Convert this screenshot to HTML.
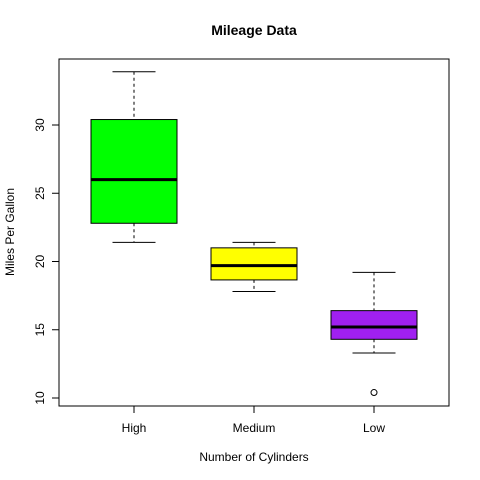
<!DOCTYPE html>
<html><head><meta charset="utf-8"><style>body{margin:0;background:#fff}svg{display:block;font-family:"Liberation Sans",sans-serif}</style></head>
<body>
<svg id="c" width="480" height="480" xmlns="http://www.w3.org/2000/svg">
<rect x="0" y="0" width="480" height="480" fill="#fff"/>
<text x="254" y="35" text-anchor="middle" font-size="14" font-weight="bold">Mileage Data</text>
<text x="254" y="461" text-anchor="middle" font-size="12">Number of Cylinders</text>
<text transform="translate(14,232) rotate(-90)" text-anchor="middle" font-size="12">Miles Per Gallon</text>
<rect x="59" y="59" width="390" height="347" fill="none" stroke="#000"/>
</svg>
<script>
const categories=["High","Medium","Low"];
const colors=["#00ff00","#ffff00","#a020f0"];
const mins=[21.4,17.8,13.3];
const q1s=[22.8,18.65,14.3];
const medians=[26,19.7,15.2];
const q3s=[30.4,21,16.4];
const maxs=[33.9,21.4,19.2];
const outliers=[[],[],[10.4]];
const yTicks=[10,15,20,25,30];
const NS="http://www.w3.org/2000/svg";
const svg=document.getElementById('c');
const y=v=>398-(v-10)*13.65;
const x=i=>134+i*120;
function el(t,a,name){const e=document.createElementNS(NS,t);for(const k in a)e.setAttribute(k,a[k]);


svg.appendChild(e);return e;}
yTicks.forEach(v=>{el('line',{x1:52,x2:59,y1:y(v),y2:y(v),stroke:'#000'},'y-tick');
const t=el('text',{transform:`translate(44,${y(v)}) rotate(-90)`,'text-anchor':'middle','font-size':12},'y-tick-label');t.textContent=v;});
categories.forEach((c,i)=>{const cx=x(i);
el('line',{x1:cx,x2:cx,y1:406,y2:413,stroke:'#000'},'x-tick');
const t=el('text',{x:cx,y:432,'text-anchor':'middle','font-size':12},'x-tick-label');t.textContent=c;
el('line',{x1:cx,x2:cx,y1:y(maxs[i]),y2:y(q3s[i]),stroke:'#000','stroke-dasharray':'3,3'},'upper-whisker');
el('line',{x1:cx,x2:cx,y1:y(q1s[i]),y2:y(mins[i]),stroke:'#000','stroke-dasharray':'3,3'},'lower-whisker');
el('line',{x1:cx-21.5,x2:cx+21.5,y1:y(maxs[i]),y2:y(maxs[i]),stroke:'#000'},'upper-cap');
el('line',{x1:cx-21.5,x2:cx+21.5,y1:y(mins[i]),y2:y(mins[i]),stroke:'#000'},'lower-cap');
el('rect',{x:cx-43,y:y(q3s[i]),width:86,height:y(q1s[i])-y(q3s[i]),fill:colors[i],stroke:'#000'},'box-'+c.toLowerCase());
el('line',{x1:cx-43,x2:cx+43,y1:y(medians[i]),y2:y(medians[i]),stroke:'#000','stroke-width':3},'median-line');
outliers[i].forEach(o=>el('circle',{cx:cx,cy:y(o),r:3,fill:'none',stroke:'#000'},'outlier-point'));
});
</script>
</body></html>
